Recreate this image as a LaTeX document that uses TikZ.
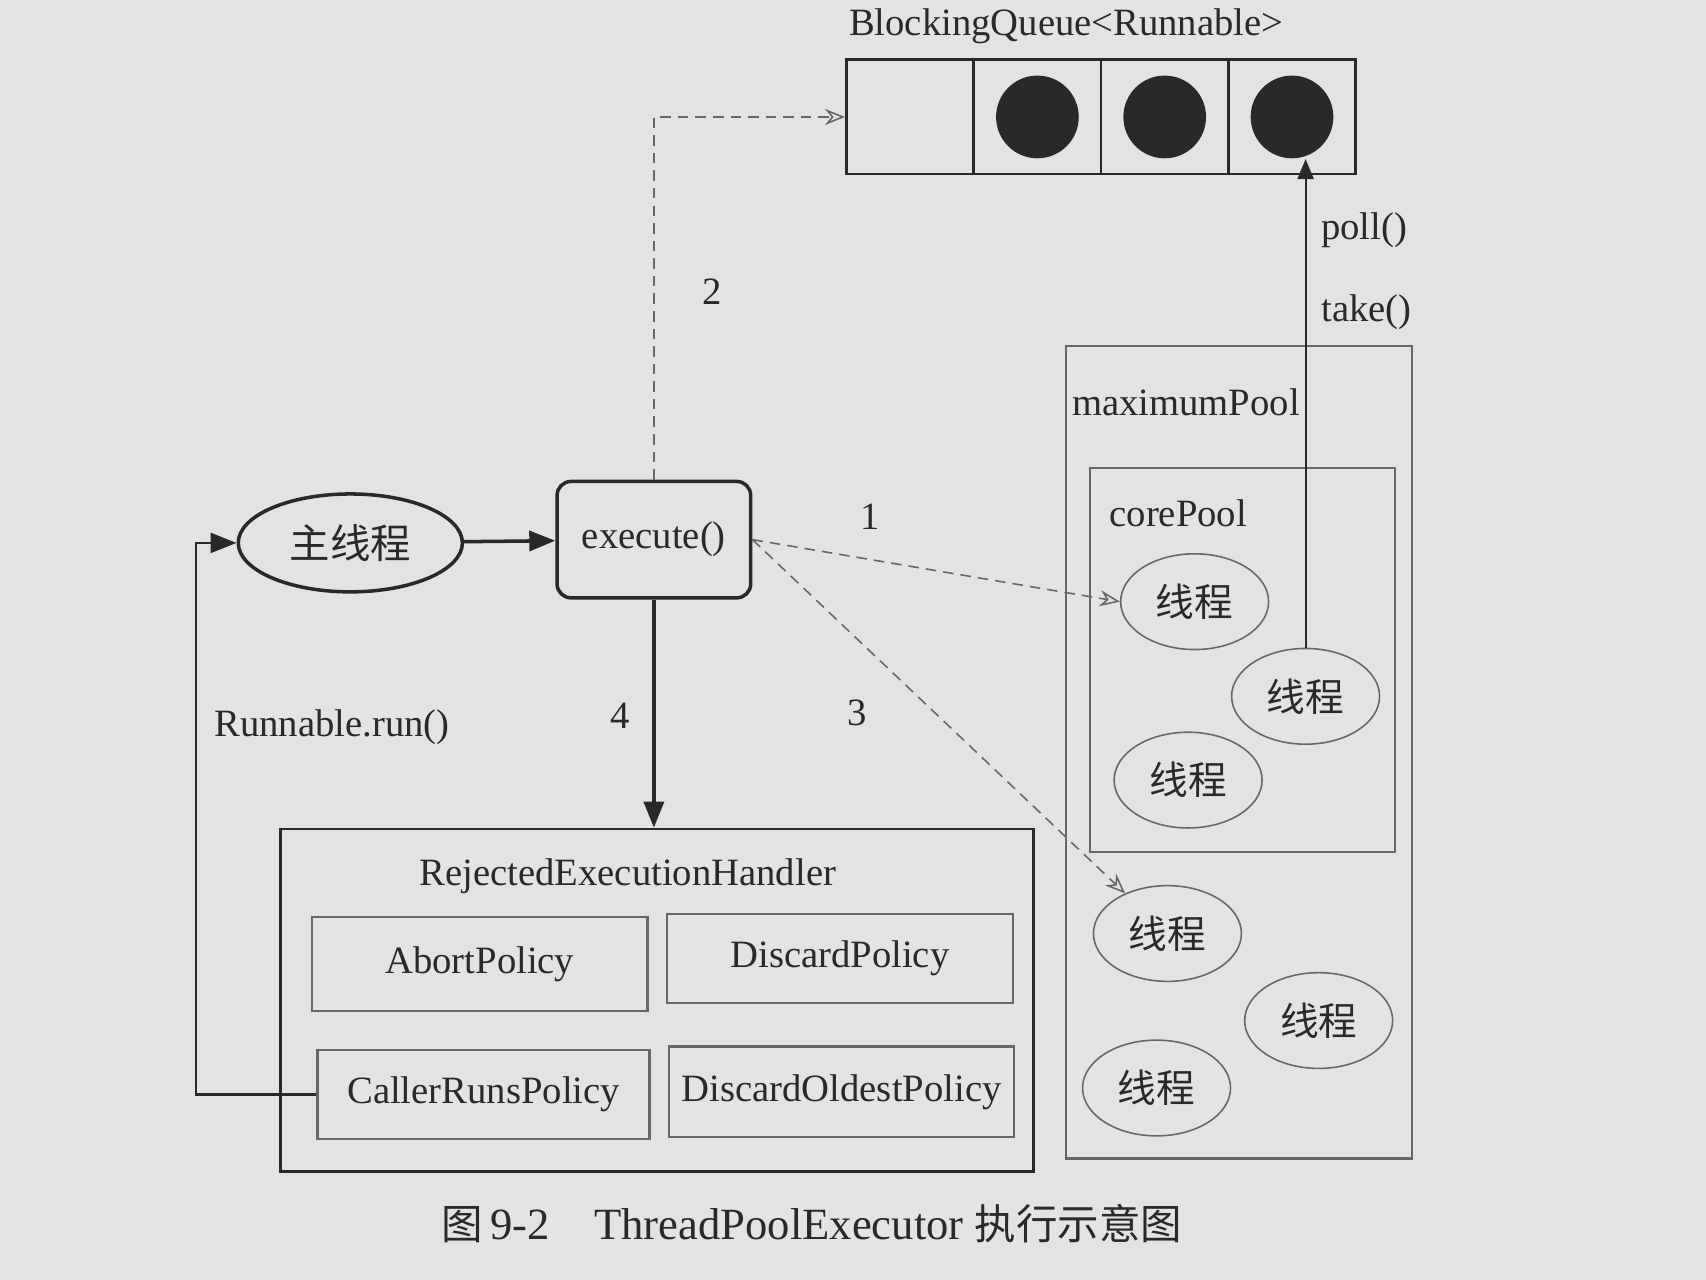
\documentclass[tikz,border=0pt]{standalone}
\usepackage{fontspec}
\setmainfont{Liberation Serif}
\newfontfamily\cjk{Noto Sans CJK SC}
\usetikzlibrary{shapes,positioning,fit,calc,arrows.meta}
\definecolor{paper}{RGB}{229,226,227}
\definecolor{ink}{RGB}{42,40,40}
\definecolor{faint}{RGB}{105,102,102}

\begin{document}
\begin{tikzpicture}[x=0.1088mm, y=-0.1088mm, font=\fontsize{11}{13}\selectfont, color=ink]

        \def\u{0.1088mm}

        % Boxes, threads and the three kinds of arrows
        \tikzset{
            box/.style={draw=ink, line width=0.8pt, inner sep=0pt},
            pool/.style={draw=faint, line width=0.7pt, inner sep=0pt},
            thread/.style={draw=faint, ellipse, line width=0.45pt,
                minimum width=136*\u, minimum height=88*\u, inner sep=0pt,
                font=\cjk\fontsize{11}{13}\selectfont},
            flow/.style={line width=1pt, -{Triangle[length=2.6mm,width=2mm]}},
            hint/.style={faint, line width=0.45pt, densely dashed,
                -{Stealth[open,length=2mm,width=1.6mm]}},
        }

        \useasboundingbox (0,0) rectangle (1568,1176.4);
        \fill[paper] (0,0) rectangle (1568,1176.4);

        % The queue on top
        \begin{scope}
            \node (BQ) at (980,24) {BlockingQueue<Runnable>};
            \foreach \i/\x in {0/836.5,1/953.5,2/1070.5,3/1187.5}
                \node (C\i) [box, minimum width=117*\u, minimum height=105*\u]
                at (\x,107.5) {};
            \foreach \i in {1,2,3}
                \node (D\i) [circle, fill=ink, minimum size=76*\u, inner sep=0pt]
                at (C\i) {};
        \end{scope}

        % Main thread, execute() and the handler
        \begin{scope}
            \node (M) [ellipse, draw=ink, line width=1pt, minimum width=206*\u,
                minimum height=90*\u, inner sep=0pt, font=\cjk\fontsize{11.5}{13}\selectfont]
                at (322,499) {主线程};
            \node (E) [box, line width=1pt, rounded corners=1.4mm,
                minimum width=178*\u, minimum height=107*\u] at (601,496) {execute()};
            \node (H) [box, minimum width=692*\u, minimum height=315*\u]
                at (604,919.5) {};
            \node (HL) at (577,805) {RejectedExecutionHandler};
            \node (P1) [pool, minimum width=308*\u, minimum height=86*\u]
                at (441,886) {AbortPolicy};
            \node (P2) [pool, minimum width=318*\u, minimum height=82*\u]
                at (772,881) {DiscardPolicy};
            \node (P3) [pool, minimum width=305*\u, minimum height=82*\u]
                at (444.5,1006) {CallerRunsPolicy};
            \node (P4) [pool, minimum width=317*\u, minimum height=83*\u]
                at (773.5,1003.5) {DiscardOldestPolicy};
        \end{scope}

        % The two pools and their threads
        \begin{scope}
            \node (MP) [pool, minimum width=318*\u, minimum height=747*\u]
                at (1139,691.5) {};
            \node (MPL) at (1090,370) {maximumPool};
            \node (CP) [pool, minimum width=280*\u, minimum height=353*\u]
                at (1142,606.5) {};
            \node (CPL) at (1083,472) {corePool};
            \node (T1) [thread] at (1098,553) {线程};
            \node (T2) [thread] at (1200,640) {线程};
            \node (T3) [thread] at (1092,717) {线程};
            \node (T4) [thread] at (1073,858) {线程};
            \node (T5) [thread] at (1212,938) {线程};
            \node (T6) [thread] at (1063,1000) {线程};
        \end{scope}

        \coordinate (R) at (180,499);

        \begin{scope}
            \draw[flow] (M) -- (E);
            \draw[flow] (E.south) -- (E.south |- H.north);
            \draw[flow, line width=0.7pt] (P3.west) -| (R) -- (M.west);
            \draw[hint] (E.north) |- (C0.west);
            \draw[hint] (E.east) -- (T1.west);
            \draw[hint] (E.east) -- (T4);
            \draw[line width=0.6pt, -{Triangle[length=2mm,width=1.6mm]}]
                (T2.north) -- (T2.north |- D3.south);
        \end{scope}

        % Labels on the arrows
        \node (L1) at (800,475) {1};
        \node (L2) at (655,268) {2};
        \node (L3) at (788,655) {3};
        \node (L4) at (570,658) {4};
        \node (LP) [anchor=west] at (1203,212) {poll()};
        \node (LT) [anchor=west] at (1203,287) {take()};
        \node (LR) at (305,668) {Runnable.run()};

        \node (CAP) at (746,1125) {\fontsize{12.7}{15}\selectfont{\cjk\fontsize{11.8}{15}\selectfont 图}\,9-2\quad
            ThreadPoolExecutor {\cjk\fontsize{11.8}{15}\selectfont 执行示意图}};

        \end{tikzpicture}
\end{document}
